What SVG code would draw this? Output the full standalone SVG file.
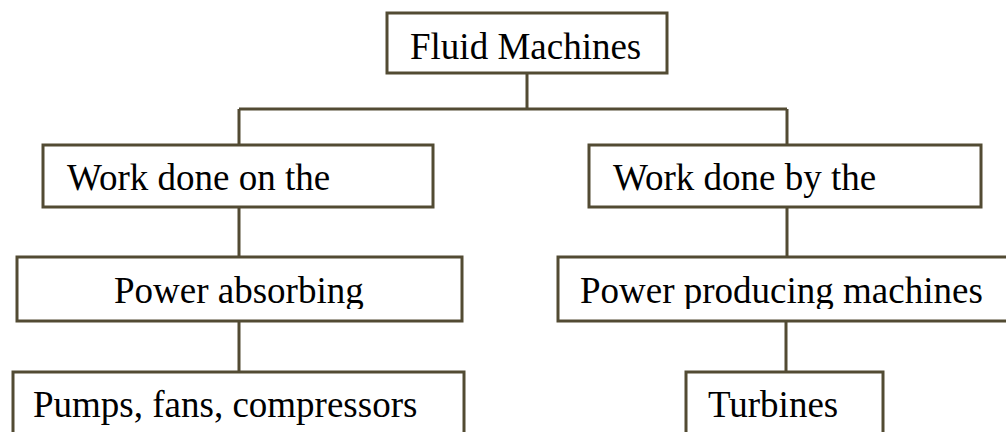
<svg xmlns="http://www.w3.org/2000/svg" width="1006" height="432" viewBox="0 0 1006 432">
<style>
.box{fill:#ffffff;stroke:#524b33;stroke-width:3}
.ln{fill:none;stroke:#524b33;stroke-width:3}
.t{font-family:'Liberation Serif','Times New Roman',Times,serif;font-size:37px;fill:#000000}
</style>
<defs>
<clipPath id="c2"><rect x="0" y="0" width="1006" height="309"/></clipPath>
<clipPath id="c3"><rect x="0" y="0" width="1006" height="425"/></clipPath>
</defs>
<rect width="1006" height="432" fill="#ffffff"/>
<g id="connectors">
<path class="ln" d="M527 73V109M239 109H787M239 109V145M787 109V145M239 207V257M787 207V257M239 321V372M786 321V372"/>
</g>
<g id="fluid-machines">
<rect class="box" x="387" y="13" width="280" height="60"/>
<text class="t" font-family="Liberation Serif" x="410" y="59">Fluid Machines</text>
</g>
<g id="work-on">
<rect class="box" x="43" y="145" width="390" height="62"/>
<text class="t" font-family="Liberation Serif" x="67" y="190">Work done on the</text>
</g>
<g id="work-by">
<rect class="box" x="589" y="145" width="392" height="62"/>
<text class="t" font-family="Liberation Serif" x="613" y="190">Work done by the</text>
</g>
<g id="power-absorbing">
<rect class="box" x="17" y="257" width="445" height="64"/>
<text class="t" font-family="Liberation Serif" x="114" y="303" clip-path="url(#c2)">Power absorbing</text>
</g>
<g id="power-producing">
<rect class="box" x="558" y="257" width="460" height="64"/>
<text class="t" font-family="Liberation Serif" x="580" y="303" clip-path="url(#c2)">Power producing machines</text>
</g>
<g id="pumps">
<rect class="box" x="13" y="372" width="451" height="70"/>
<text class="t" font-family="Liberation Serif" x="33" y="417" clip-path="url(#c3)">Pumps, fans, compressors</text>
</g>
<g id="turbines">
<rect class="box" x="686" y="372" width="197" height="70"/>
<text class="t" font-family="Liberation Serif" x="708" y="417">Turbines</text>
</g>
</svg>
